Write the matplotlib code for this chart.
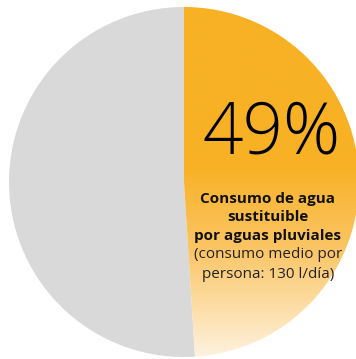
import numpy as np
import matplotlib
matplotlib.use("Agg")
import matplotlib.pyplot as plt
from matplotlib.colors import LinearSegmentedColormap

# data
labels = ["Consumo sustituible", "Resto"]
values = [49, 51]
pct_label = "49%"
desc_bold = ["Consumo de agua", "sustituible", "por aguas pluviales"]
desc_regular = ["(consumo medio por", "persona: 130 l/día)"]

W, H = 356, 359
fig = plt.figure(figsize=(W / 100, H / 100), dpi=100)
ax = fig.add_axes([0, 0, 1, 1])
ax.set_xlim(0, W)
ax.set_ylim(0, H)
ax.set_aspect("equal")
ax.axis("off")

cx, cy, r = 184, H - 182, 175
wedges, _ = ax.pie(values, center=(cx, cy), radius=r, startangle=90,
                   counterclock=False, colors=["#F8B124", "#D9D9D9"],
                   wedgeprops=dict(linewidth=0))
ax.set_xlim(0, W)
ax.set_ylim(0, H)

# gradient fill for orange wedge
cmap = LinearSegmentedColormap.from_list(
    "g", [(0.0, "#F8B124"), (0.45, "#F8B124"), (0.7, "#FBC668"), (1.0, "#FEF2DE")])
grad = np.linspace(0, 1, 256).reshape(-1, 1)
im = ax.imshow(grad, extent=(cx - r, cx + r, cy - r, cy + r), origin="upper",
               cmap=cmap, aspect="auto", zorder=2)
im.set_clip_path(wedges[0])
wedges[0].set_facecolor("none")

font = "Open Sans"
ax.text(272, H - 134, pct_label, ha="center", va="center", fontsize=51,
        family=font, fontweight="light", color="black", zorder=5)
ys = [199, 217, 236]
for t, y in zip(desc_bold, ys):
    ax.text(268, H - y, t, ha="center", va="center", fontsize=11,
            family=font, fontweight="bold", color="#111111", zorder=5)
for t, y in zip(desc_regular, [255, 274]):
    ax.text(268, H - y, t, ha="center", va="center", fontsize=11,
            family=font, color="#222222", zorder=5)

fig.savefig("out.png", dpi=100)
